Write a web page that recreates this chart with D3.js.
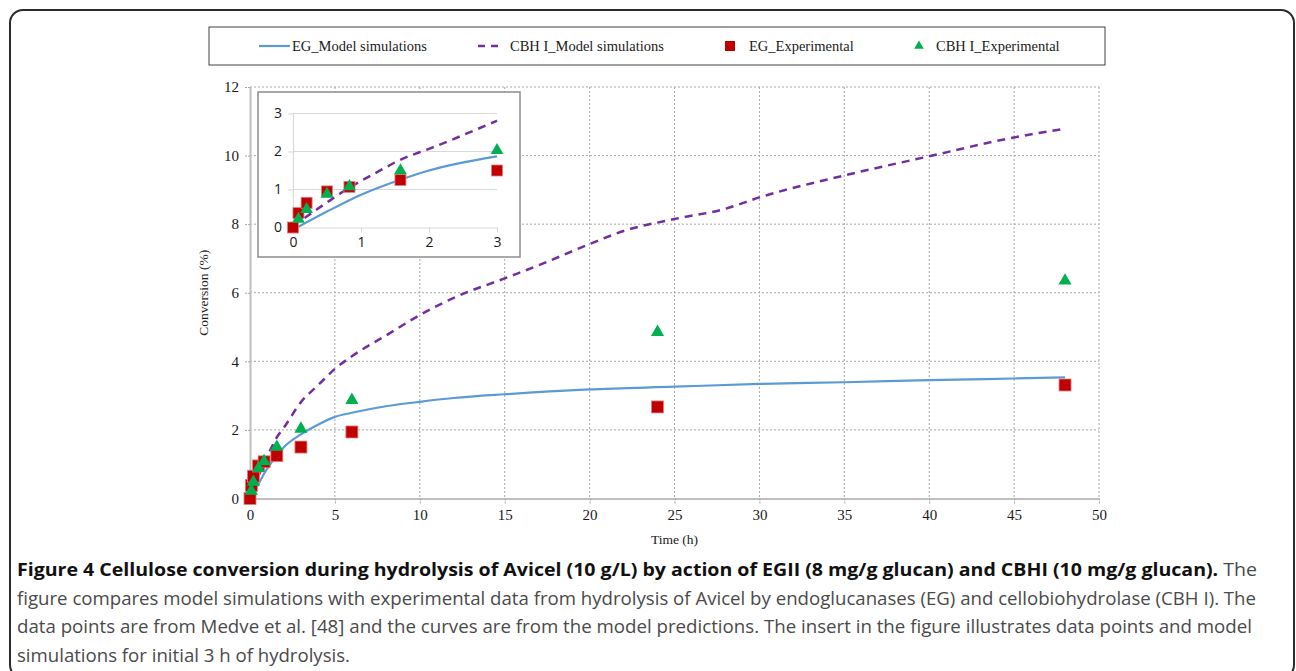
<!DOCTYPE html>
<html>
<head>
<meta charset="utf-8">
<script src="https://cdn.jsdelivr.net/npm/d3@7"></script>
<style>
  html, body { margin: 0; padding: 0; background: #fff; }
  svg { display: block; }
</style>
</head>
<body>
<svg id="fig" width="1296" height="671"></svg>
<script>
// ---- data ----
// model curves (time in h, conversion in %)
const egModelTime  = [0.08, 0.5, 0.83, 1.0, 1.6, 2, 3, 4, 5, 6, 8, 10, 12, 15, 20, 25, 30, 35, 40, 45, 48];
const egModelConv  = [0.02, 0.42, 0.72, 0.86, 1.27, 1.5, 1.87, 2.15, 2.38, 2.5, 2.69, 2.82, 2.93, 3.04, 3.18, 3.26, 3.34, 3.39, 3.45, 3.5, 3.53];
const cbhModelTime = [0.17, 0.5, 0.84, 1.2, 1.6, 2, 3, 4, 5, 6, 8, 10, 12, 15, 17, 20, 22, 25, 28, 30, 35, 40, 45, 48];
const cbhModelConv = [0.25, 0.66, 1.06, 1.42, 1.8, 2.07, 2.81, 3.3, 3.78, 4.15, 4.75, 5.35, 5.85, 6.42, 6.8, 7.42, 7.8, 8.15, 8.45, 8.78, 9.42, 9.98, 10.53, 10.78];
// experimental points
const egExpTime  = [0, 0.08, 0.2, 0.5, 0.83, 1.58, 3, 6, 24, 48];
const egExpConv  = [0, 0.38, 0.65, 0.95, 1.07, 1.25, 1.5, 1.94, 2.67, 3.31];
const cbhExpTime = [0.08, 0.2, 0.5, 0.83, 1.58, 3, 6, 24, 48];
const cbhExpConv = [0.22, 0.48, 0.88, 1.08, 1.5, 2.03, 2.87, 4.85, 6.35];
// ticks
const xTicks = [0, 5, 10, 15, 20, 25, 30, 35, 40, 45, 50];
const yTicks = [0, 2, 4, 6, 8, 10, 12];
const insetXTicks = [0, 1, 2, 3];
const insetYTicks = [0, 1, 2, 3];
const legendLabels = ["EG_Model simulations", "CBH I_Model simulations", "EG_Experimental", "CBH I_Experimental"];
const captionTitle = "Figure 4 Cellulose conversion during hydrolysis of Avicel (10 g/L) by action of EGII (8 mg/g glucan) and CBHI (10 mg/g glucan).";
const captionLines = [
  " The",
  "figure compares model simulations with experimental data from hydrolysis of Avicel by endoglucanases (EG) and cellobiohydrolase (CBH I). The",
  "data points are from Medve et al. [48] and the curves are from the model predictions. The insert in the figure illustrates data points and model",
  "simulations for initial 3 h of hydrolysis."
];

const BLUE = "#5b9bd5", PURPLE = "#7030a0", RED = "#c00000", GREEN = "#00b050";
const SERIF = "'Liberation Serif', 'Times New Roman', serif";
const SANS = "'Open Sans', 'Noto Sans', sans-serif";

const zip = (a, b) => a.map((v, i) => [v, b[i]]);
const egModel = zip(egModelTime, egModelConv);
const cbhModel = zip(cbhModelTime, cbhModelConv);
const egExp = zip(egExpTime, egExpConv);
const cbhExp = zip(cbhExpTime, cbhExpConv);

const svg = d3.select("#fig");

// outer frame
svg.append("rect").attr("x", 10).attr("y", 10).attr("width", 1284).attr("height", 668)
  .attr("rx", 13).attr("fill", "none").attr("stroke", "#2b2b2b").attr("stroke-width", 2);

// ---- main chart ----
const x = d3.scaleLinear().domain([0, 50]).range([250, 1099]);
const y = d3.scaleLinear().domain([0, 12]).range([498.5, 87]);

const grid = svg.append("g").attr("stroke", "#a6a6a6").attr("stroke-width", 1).attr("stroke-dasharray", "2,2");
grid.selectAll("line.v").data(xTicks.filter(d => d > 0)).join("line")
  .attr("x1", d => x(d)).attr("x2", d => x(d)).attr("y1", y(12)).attr("y2", y(0));
grid.selectAll("line.h").data(yTicks.filter(d => d > 0)).join("line")
  .attr("x1", x(0)).attr("x2", x(50)).attr("y1", d => y(d)).attr("y2", d => y(d));

const xAxis = svg.append("g").attr("transform", `translate(0,${y(0)})`)
  .call(d3.axisBottom(x).tickValues(xTicks).tickSize(5).tickSizeOuter(0).tickPadding(6));
const yAxis = svg.append("g").attr("transform", `translate(${x(0)},0)`)
  .call(d3.axisLeft(y).tickValues(yTicks).tickSize(5).tickSizeOuter(0).tickPadding(6));
[xAxis, yAxis].forEach(g => {
  g.select(".domain").attr("stroke", "#bfbfbf").attr("stroke-width", 2);
  g.selectAll(".tick line").attr("stroke", "#a6a6a6").attr("stroke-dasharray", "2,1");
  g.selectAll(".tick text").attr("font-family", SERIF).attr("font-size", 15).attr("fill", "#1a1a1a");
});

svg.append("text").attr("x", (x(0) + x(50)) / 2).attr("y", 544).attr("text-anchor", "middle")
  .attr("font-family", SERIF).attr("font-size", 13.5).attr("fill", "#1a1a1a").text("Time (h)");
svg.append("text").attr("transform", `translate(208,${(y(0) + y(12)) / 2}) rotate(-90)`)
  .attr("text-anchor", "middle").attr("font-family", SERIF).attr("font-size", 13.5).attr("fill", "#1a1a1a")
  .text("Conversion (%)");

function drawSeries(g, xs, ys, sq, tri) {
  const line = d3.line().x(d => xs(d[0])).y(d => ys(d[1])).curve(d3.curveMonotoneX);
  g.append("path").datum(egModel.filter(d => d[0] <= xs.domain()[1])).attr("d", line)
    .attr("fill", "none").attr("stroke", BLUE).attr("stroke-width", 2.2);
  g.append("path").datum(cbhModel.filter(d => d[0] <= xs.domain()[1])).attr("d", line)
    .attr("fill", "none").attr("stroke", PURPLE).attr("stroke-width", 2.5).attr("stroke-dasharray", "8,6");
  g.selectAll("rect.eg").data(egExp.filter(d => d[0] <= xs.domain()[1])).join("rect")
    .attr("x", d => xs(d[0]) - sq / 2).attr("y", d => ys(d[1]) - sq / 2)
    .attr("width", sq).attr("height", sq).attr("fill", RED).attr("stroke", "#e08080").attr("stroke-width", 0.8);
  const triPath = d3.symbol(d3.symbolTriangle, tri);
  g.selectAll("path.cbh").data(cbhExp.filter(d => d[0] <= xs.domain()[1])).join("path")
    .attr("transform", d => `translate(${xs(d[0])},${ys(d[1])})`)
    .attr("d", triPath).attr("fill", GREEN);
}
drawSeries(svg.append("g"), x, y, 12, 75);

// ---- inset: first 3 h ----
const inset = svg.append("g");
inset.append("rect").attr("x", 258).attr("y", 92).attr("width", 262).attr("height", 165)
  .attr("fill", "#fff").attr("stroke", "#8c8c8c").attr("stroke-width", 1.5);
const ix = d3.scaleLinear().domain([0, 3]).range([293, 497]);
const iy = d3.scaleLinear().domain([0, 3]).range([227.5, 113.5]);
inset.selectAll("line.ig").data(insetYTicks.filter(d => d > 0)).join("line")
  .attr("x1", ix(0)).attr("x2", ix(3)).attr("y1", d => iy(d)).attr("y2", d => iy(d))
  .attr("stroke", "#d9d9d9").attr("stroke-width", 1);
const intFmt = d3.format("d");
const ixAxis = inset.append("g").attr("transform", `translate(0,${iy(0)})`)
  .call(d3.axisBottom(ix).tickValues(insetXTicks).tickFormat(intFmt).tickSize(5).tickSizeOuter(0).tickPadding(5));
const iyAxis = inset.append("g").attr("transform", `translate(${ix(0)},0)`)
  .call(d3.axisLeft(iy).tickValues(insetYTicks).tickFormat(intFmt).tickSize(5).tickSizeOuter(0).tickPadding(6));
[ixAxis, iyAxis].forEach(g => {
  g.select(".domain").attr("stroke", "#d9d9d9").attr("stroke-width", 1.2);
  g.selectAll(".tick line").attr("stroke", "#d9d9d9");
  g.selectAll(".tick text").attr("font-family", SANS).attr("font-size", 14).attr("fill", "#1a1a1a");
});
drawSeries(inset.append("g"), ix, iy, 11, 70);

// ---- legend ----
const lg = svg.append("g");
lg.append("rect").attr("x", 209).attr("y", 27).attr("width", 896).attr("height", 38)
  .attr("fill", "#fff").attr("stroke", "#404040").attr("stroke-width", 1);
const ly = 46;
lg.append("line").attr("x1", 259).attr("x2", 290).attr("y1", ly).attr("y2", ly)
  .attr("stroke", BLUE).attr("stroke-width", 2.2);
lg.append("line").attr("x1", 478).attr("x2", 503).attr("y1", ly).attr("y2", ly)
  .attr("stroke", PURPLE).attr("stroke-width", 2.5).attr("stroke-dasharray", "7,6");
lg.append("rect").attr("x", 725).attr("y", ly - 5).attr("width", 10).attr("height", 10).attr("fill", RED);
lg.append("path").attr("transform", `translate(919,${ly})`).attr("d", d3.symbol(d3.symbolTriangle, 40)()).attr("fill", GREEN);
const legendX = [292, 510, 749, 936];
lg.selectAll("text").data(legendLabels).join("text")
  .attr("x", (d, i) => legendX[i]).attr("y", ly + 5)
  .attr("font-family", SERIF).attr("font-size", 14.5).attr("fill", "#1a1a1a").text(d => d);

// ---- caption ----
const capX = 17, capBase = [576, 605, 633, 662], capEnd = [1257, 1256, 1252, 350];
const cap = svg.append("g").attr("font-family", SANS).attr("font-size", 18.5);
captionLines.forEach((txt, i) => {
  const t = cap.append("text").attr("x", capX).attr("y", capBase[i])
    .attr("textLength", capEnd[i] - capX).attr("lengthAdjust", "spacingAndGlyphs");
  if (i === 0) {
    t.append("tspan").attr("font-weight", "bold").attr("fill", "#111").text(captionTitle);
  }
  t.append("tspan").attr("fill", "#4a4a4a").text(txt);
});
</script>
</body>
</html>
